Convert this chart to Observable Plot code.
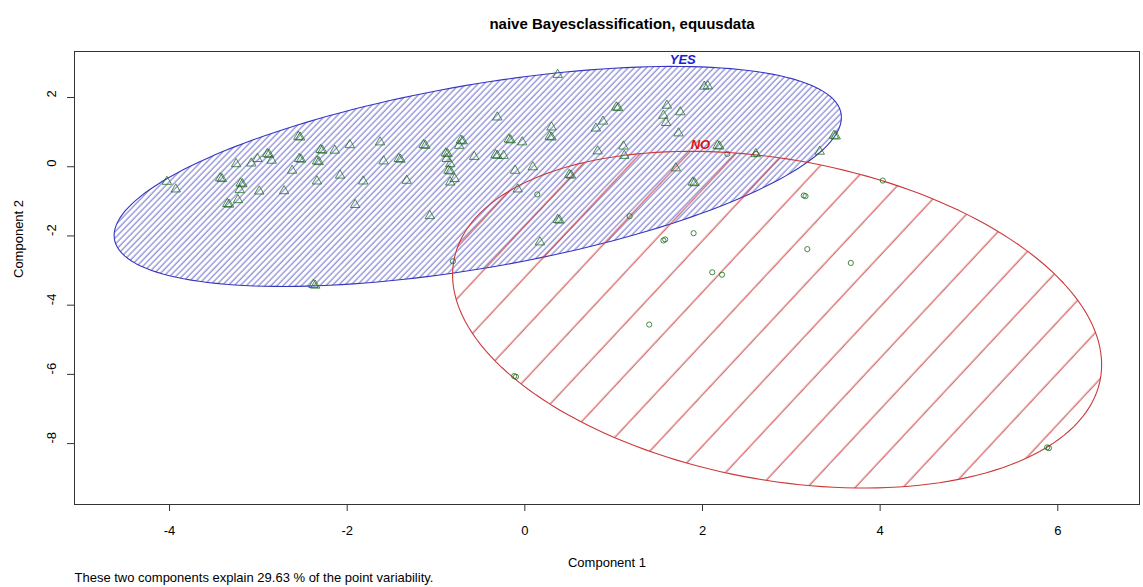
<!DOCTYPE html>
<html><head><meta charset="utf-8">
<script src="https://cdn.jsdelivr.net/npm/d3@7"></script>
<script src="https://cdn.jsdelivr.net/npm/@observablehq/plot@0.6"></script>
<style>body{margin:0;background:#fff;font-family:"Liberation Sans",Arial,sans-serif}</style>
</head><body><div id="chart"></div>
<script>
// ---- data ----
const title = "naive Bayesclassification, equusdata";
const xLabel = "Component 1";
const yLabel = "Component 2";
const caption = "These two components explain 29.63 % of the point variability.";
const xTicks = [-4, -2, 0, 2, 4, 6];
const yTicks = [2, 0, -2, -4, -6, -8];

// class YES (triangles)
const yesX = [-4.03,-3.93,-3.43,-3.25,-3.35,-3.23,-3.20,-3.21,-3.08,-3.01,-2.90,-2.85,-2.99,-2.71,-2.62,-2.55,-2.54,-2.34,-2.34,-2.30,
  -2.14,-2.08,-1.97,-1.91,-1.82,-1.63,-1.59,-2.38,-1.42,-1.33,-1.14,-1.07,-0.89,-0.88,-0.86,-0.84,-0.84,-0.79,-0.74,-0.72,
  -0.57,-0.31,-0.33,-0.24,-0.18,-0.03,-0.11,0.09,-0.08,0.30,0.28,0.37,0.50,0.37,0.80,0.88,0.82,1.03,1.11,1.12,
  1.60,1.56,1.59,1.75,1.73,2.02,2.06,1.70,1.89,2.17,3.48,3.32,0.17,2.60,
  -3.41,-3.33,-3.18,-2.88,-2.53,-2.52,-2.32,-2.28,-2.36,-1.40,-1.12,-0.87,-0.84,-0.70,-0.31,-0.16,0.30,0.52,0.39,1.05,1.91,2.19,3.50];
const yesY = [-0.43,-0.65,-0.33,0.08,-1.07,-0.96,-0.48,-0.67,0.10,0.23,0.37,0.18,-0.71,-0.70,-0.11,0.87,0.23,-0.42,0.16,0.49,
  0.47,-0.25,0.63,-1.10,-0.42,0.71,0.16,-3.41,0.23,-0.40,0.63,-1.42,0.39,0.23,-0.11,0.08,-0.45,-0.35,0.61,0.76,
  0.29,1.43,0.34,0.32,0.79,0.71,-0.11,-0.01,-0.65,1.14,0.87,2.66,-0.23,-1.53,1.11,1.31,0.45,1.72,0.59,0.32,
  1.77,1.48,1.27,1.58,0.97,2.32,2.33,-0.04,-0.45,0.61,0.90,0.44,-2.18,0.37,
  -0.35,-1.09,-0.50,0.35,0.85,0.21,0.14,0.47,-3.43,0.21,0.61,0.37,-0.13,0.74,0.32,0.77,0.85,-0.25,-1.55,1.70,-0.47,0.59,0.88];

// class NO (circles)
const noX = [0.14,1.18,1.56,1.90,2.11,2.22,1.40,-0.12,-0.81,2.28,2.60,3.14,3.18,3.67,4.03,5.88, 1.58,-0.10,3.16,5.90];
const noY = [-0.80,-1.43,-2.13,-1.92,-3.05,-3.12,-4.56,-6.05,-2.73,0.37,0.37,-0.83,-2.38,-2.78,-0.40,-8.11, -2.10,-6.07,-0.85,-8.13];

// cluster spanning ellipses: centre and shape matrix
const clusterNames = ["YES", "NO"];
const ellCx  = [-0.53, 2.84];
const ellCy  = [-0.28, -4.42];
const ellSxx = [16.76, 13.35];
const ellSxy = [6.98, -4.75];
const ellSyy = [10.11, 23.67];

// ---- build tables ----
const yes = yesX.map((x, i) => ({x, y: yesY[i]}));
const no = noX.map((x, i) => ({x, y: noY[i]}));
function ellipse(i) {
  const l11 = Math.sqrt(ellSxx[i]), l21 = ellSxy[i] / l11, l22 = Math.sqrt(ellSyy[i] - l21 * l21);
  return d3.range(0, 361, 2).map(a => {
    const t = a * Math.PI / 180;
    return {x: ellCx[i] + l11 * Math.cos(t), y: ellCy[i] + l21 * Math.cos(t) + l22 * Math.sin(t)};
  });
}
const labels = clusterNames.map((name, i) => ({
  name,
  x: ellCx[i] + ellSxy[i] / Math.sqrt(ellSyy[i]),
  y: ellCy[i] + Math.sqrt(ellSyy[i])
}));
const green = "#1a6b1a";
const blue = "#3535c0";
const red = "#cc3a3a";

const plot = Plot.plot({
  width: 1143, height: 587,
  marginLeft: 74, marginRight: 4, marginTop: 51, marginBottom: 83,
  x: {domain: [-5.07, 6.92]},
  y: {domain: [-9.76, 3.33]},
  style: {fontFamily: "Liberation Sans, Arial, sans-serif", fontSize: "13px", color: "#000", background: "#fff"},
  marks: [
    Plot.line(ellipse(0), {x: "x", y: "y", fill: "url(#hatchYES)", stroke: blue, strokeWidth: 1.1}),
    Plot.line(ellipse(1), {x: "x", y: "y", fill: "url(#hatchNO)", stroke: red, strokeWidth: 1.1}),
    Plot.dot(yes, {x: "x", y: "y", symbol: "triangle", r: 3.5, stroke: green, strokeOpacity: 0.75, fill: "none", strokeWidth: 1}),
    Plot.dot(no, {x: "x", y: "y", symbol: "circle", r: 2.6, stroke: green, strokeOpacity: 0.8, fill: "none", strokeWidth: 1}),
    Plot.text(labels, {x: "x", y: "y", text: "name", fill: (d) => d.name === "YES" ? "#2020d0" : "#e01010",
      fontWeight: "bold", fontStyle: "italic", fontSize: 13, dx: 10, dy: -7}),
    Plot.frame({stroke: "#333"}),
    Plot.axisX({ticks: xTicks, tickSize: 7, tickPadding: 14, tickFormat: d => String(d), label: null, stroke: "#333"}),
    Plot.axisY({ticks: yTicks, tickSize: 7, tickFormat: () => "", label: null, stroke: "#333"}),
    Plot.text(yTicks, {y: d => d, frameAnchor: "left", dx: -23, rotate: -90, text: d => String(d), fontSize: 13}),
    Plot.text([yLabel], {frameAnchor: "left", dx: -56, rotate: -90, text: d => d, fontSize: 13}),
    Plot.text([xLabel], {frameAnchor: "bottom", dy: 62, text: d => d, fontSize: 13}),
    Plot.text([title], {frameAnchor: "top", dx: 15, dy: -33, text: d => d, fontWeight: "bold", fontSize: 15}),
    Plot.text([caption], {frameAnchor: "bottom-left", dy: 77, textAnchor: "start", text: d => d, fontSize: 13})
  ]
});

const ns = "http://www.w3.org/2000/svg";
const defs = document.createElementNS(ns, "defs");
defs.innerHTML =
  `<pattern id="hatchYES" patternUnits="userSpaceOnUse" width="4.4" height="20" patternTransform="rotate(44)">` +
  `<line x1="1" y1="-2" x2="1" y2="22" stroke="#4444c2" stroke-width="0.85"/></pattern>` +
  `<pattern id="hatchNO" patternUnits="userSpaceOnUse" width="35" height="40" patternTransform="rotate(43)">` +
  `<line x1="12.2" y1="-2" x2="12.2" y2="42" stroke="#c83434" stroke-width="1"/></pattern>`;
plot.insertBefore(defs, plot.firstChild);
document.getElementById("chart").appendChild(plot);
</script>
</body></html>
